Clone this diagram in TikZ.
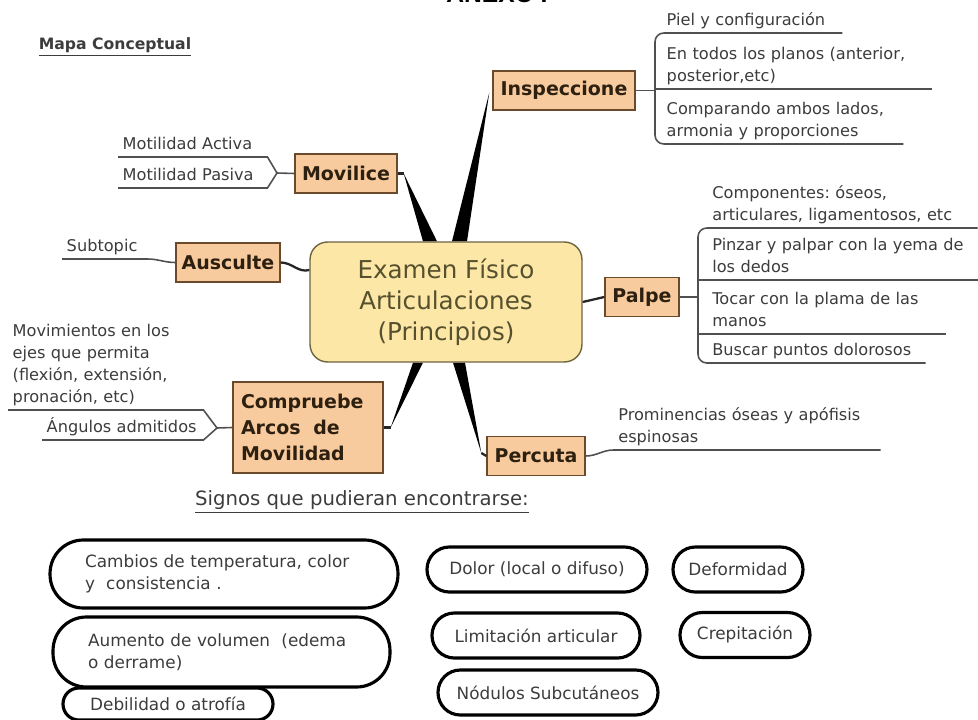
\documentclass[tikz,border=0pt]{standalone}
\usepackage{fontspec}
\setmainfont{DejaVu Sans}
\newfontfamily\titlefont{Liberation Sans}
\usepackage{tikz}
\usetikzlibrary{calc,positioning,backgrounds}
\usepackage{xcolor}
\definecolor{topicfill}{HTML}{FDE7A6}
\definecolor{topicdraw}{HTML}{6E6440}
\definecolor{topictext}{HTML}{55502E}
\definecolor{branchfill}{HTML}{F8CB9E}
\definecolor{branchdraw}{HTML}{6A4A2A}
\definecolor{branchtext}{HTML}{2E2010}
\definecolor{leaftext}{HTML}{3C3C3C}
\definecolor{twigcolor}{HTML}{505050}
\frenchspacing

\begin{document}
\begin{tikzpicture}[
    x=0.02cm,
    y=-0.02cm,
    topic/.style={
        rectangle,
        rounded corners=10pt,
        draw=topicdraw,
        line width=0.8pt,
        fill=topicfill,
        text=topictext,
        align=center,
        font=\fontsize{14}{17.6}\selectfont,
        minimum width=5.44cm,
        minimum height=2.4cm
    },
    branch/.style={
        rectangle,
        draw=branchdraw,
        line width=0.8pt,
        fill=branchfill,
        text=branchtext,
        font=\fontsize{10.8}{15}\selectfont\bfseries,
        inner sep=0pt,
        minimum height=0.78cm
    },
    leaf/.style={
        anchor=south west,
        align=left,
        text=leaftext,
        font=\fontsize{9.2}{12.5}\selectfont,
        inner xsep=2.5pt,
        inner ysep=0.3pt,
        execute at end node={\strut}
    },
    sign/.style={
        rectangle,
        rounded corners=12.7pt,
        draw=black,
        line width=1.8pt,
        text=leaftext,
        font=\fontsize{9.6}{12.5}\selectfont,
        minimum height=0.9cm
    },
    twig/.style={draw=twigcolor, line width=0.9pt},
    stem/.style={draw=black!85, line width=1.3pt},
    limb/.style={fill=black}
]

\useasboundingbox (0,0) rectangle (978,720);

\node[font=\titlefont\fontsize{14}{16}\selectfont\bfseries, anchor=base] (anexo) at (497,3) {ANEXO I};
\node[font=\fontsize{8.9}{11}\selectfont\bfseries, text=leaftext] (mapa) at (115,47) {\underline{Mapa Conceptual}};

\node[topic] (root) at (446,302) {Examen Físico\\Articulaciones\\(Principios)};

\node[branch, minimum width=2.84cm] (insp) at (564,90.5) {Inspeccione};
\node[branch, minimum width=2.04cm] (mov) at (346,173.5) {Movilice};
\node[branch, minimum width=2.08cm] (aus) at (228,262.5) {Ausculte};
\node[branch, minimum width=1.48cm] (palpe) at (642,297) {Palpe};
\node[branch, minimum width=3.0cm, minimum height=1.82cm, inner xsep=4.5pt, align=left, text width=2.68cm] (comp) at (308,427.5) {Compruebe\\Arcos\ \ de\\Movilidad};
\node[branch, minimum width=1.96cm] (perc) at (536,456) {Percuta};

\coordinate (mov-tip) at ($(mov.east)+(6,0)$);
\coordinate (insp-tip) at ($(insp.west)+(-3,2)$);
\coordinate (comp-tip) at ($(comp.east)+(7,0)$);
\coordinate (perc-tip) at ($(perc.west)+(-5,-3)$);

\begin{scope}[on background layer]
\foreach \t/\a/\b/\s in {mov-tip/-23/-9/north, insp-tip/6/21/north, comp-tip/-33/-23/south, perc-tip/7/19/south}{
    \fill[limb] ($(root.\s)+(\a,0)$) -- ($(root.\s)+(\b,0)$) -- (\t) -- cycle;
}
\end{scope}
\draw[stem] (mov.east) -- (mov-tip);
\draw[stem] (comp.east) -- (comp-tip);
\draw[stem] (perc.west) -- (perc-tip);
\draw[stem] (aus.east) to[out=0, in=195] ($(root.west)+(0,-32)$);
\draw[stem] (root.east) -- (palpe.west);

\coordinate (ib) at (655,90);
\node[leaf, text width=3.42cm] (i1) at (662,33) {Piel y configuración};
\node[leaf, text width=5.22cm] (i2) at (662,89) {En todos los planos (anterior,\\posterior,etc)};
\node[leaf, text width=4.64cm] (i3) at (662,144) {Comparando ambos lados,\\armonia y proporciones};
\draw[twig, rounded corners=5pt] (i1.south east) -- (i1.south west -| ib) -- (i3.south west -| ib) -- (i3.south east);
\draw[twig] (i2.south east) -- (i2.south west -| ib);
\draw[twig] (insp.east) -- (insp.east -| ib);

\coordinate (pb) at (698,297);
\node[leaf, text width=5.21cm] (p1) at (707.6,228) {Componentes: óseos,\\articulares, ligamentosos, etc};
\node[leaf, text width=5.23cm] (p2) at (707.6,280) {Pinzar y palpar con la yema de\\los dedos};
\node[leaf, text width=4.57cm] (p3) at (707.6,334) {Tocar con la plama de las\\manos};
\node[leaf, text width=4.17cm] (p4) at (707.6,363) {Buscar puntos dolorosos};
\draw[twig, rounded corners=5pt] (p1.south east) -- (p1.south west -| pb) -- (p4.south west -| pb) -- (p4.south east);
\draw[twig] (p2.south east) -- (p2.south west -| pb);
\draw[twig] (p3.south east) -- (p3.south west -| pb);
\draw[twig] (palpe.east) -- (pb);

\node[leaf, text width=2.8cm] (a1) at (118,157) {Motilidad Activa};
\node[leaf, text width=2.8cm] (a2) at (118,188) {Motilidad Pasiva};
\coordinate (mk) at (277,173);
\draw[twig] (a1.south west) -- (a1.south east) -- (mk) -- (a2.south east) -- (a2.south west);
\draw[twig] (mk) -- (mov.west);

\node[leaf, text width=1.52cm] (sub) at (62,259) {Subtopic};
\draw[twig] (sub.south west) -- (sub.south east) to[out=0, in=180] (aus.west);

\node[leaf, text width=3.72cm] (m1) at (8,410) {Movimientos en los\\ejes que permita\\(flexión, extensión,\\pronación, etc)};
\node[leaf, text width=3.04cm] (m2) at (42,440) {Ángulos admitidos};
\coordinate (ck) at (217,428);
\draw[twig] (m1.south west) -- (m1.south east) -- (ck) -- (m2.south east) -- (m2.south west);
\draw[twig] (ck) -- (comp.west);

\node[leaf, text width=5.15cm] (pr) at (613.6,450) {Prominencias óseas y apófisis\\espinosas};
\draw[twig] (perc.east) to[out=0, in=180] (pr.south west) -- (pr.south east);

\node[font=\fontsize{11.2}{13}\selectfont, text=leaftext] (signos) at (362,502) {\underline{Signos que pudieran encontrarse:}};

\node[sign, rounded corners=19pt, minimum width=6.96cm, minimum height=1.36cm, align=left, text width=5.56cm] (s1) at (224,574) {Cambios de temperatura, color\\y\ \ consistencia .};
\node[sign, rounded corners=19pt, minimum width=6.74cm, minimum height=1.4cm, align=left, text width=5.34cm] (s2) at (221.5,652) {Aumento de volumen\ \ (edema\\o derrame)};
\node[sign, rounded corners=9pt, minimum width=4.2cm, minimum height=0.64cm] (s3) at (168,704) {Debilidad o atrofía};
\node[sign, minimum width=4.4cm] (s4) at (537,569.5) {Dolor (local o difuso)};
\node[sign, minimum width=2.6cm] (s5) at (738,569.5) {Deformidad};
\node[sign, minimum width=4.16cm] (s6) at (536,635.5) {Limitación articular};
\node[sign, minimum width=2.6cm] (s7) at (745,635) {Crepitación};
\node[sign, minimum width=4.4cm] (s8) at (548,692.5) {Nódulos Subcutáneos};

\end{tikzpicture}
\end{document}
